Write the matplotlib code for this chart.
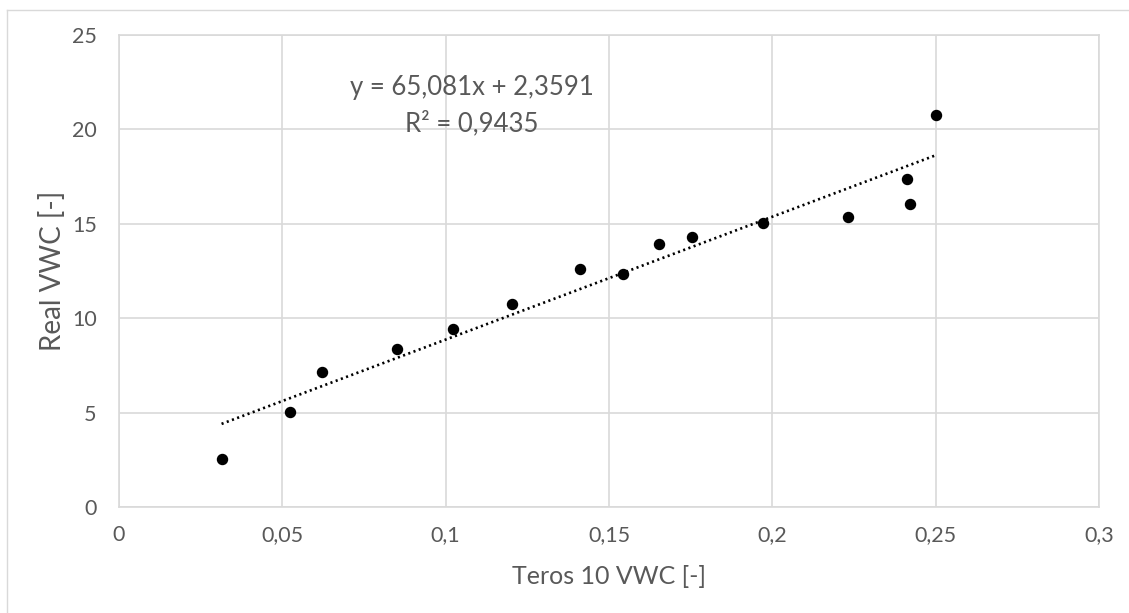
import numpy as np
import matplotlib
matplotlib.use("Agg")
import matplotlib.pyplot as plt
from matplotlib.lines import Line2D

# Teros 10 sensor readings vs. reference (gravimetric) VWC
teros_vwc = [0.0314, 0.0523, 0.0622, 0.0851, 0.1022, 0.1203, 0.1411, 0.1542,
             0.1652, 0.1753, 0.1971, 0.2231, 0.2411, 0.2421, 0.2501]
real_vwc = [2.54, 5.05, 7.17, 8.37, 9.43, 10.75, 12.60, 12.34,
            13.91, 14.30, 15.03, 15.38, 17.39, 16.03, 20.75]

# linear trendline coefficients
SLOPE = 65.081
INTERCEPT = 2.3591
R2 = 0.9435

x_ticks = [0, 0.05, 0.1, 0.15, 0.2, 0.25, 0.3]
y_ticks = [0, 5, 10, 15, 20, 25]

plt.rcParams["font.family"] = ["Lato", "DejaVu Sans"]
TEXT = "#595959"
GRID = "#d9d9d9"


def comma(v):
    return f"{v:g}".replace(".", ",")


fig = plt.figure(figsize=(11.29, 6.13), dpi=100)
ax = fig.add_axes([0.1054, 0.1729, 0.8680, 0.7700])

ax.scatter(teros_vwc, real_vwc, s=52, color="black", zorder=3)

xs = np.array([min(teros_vwc), max(teros_vwc)])
ax.plot(xs, SLOPE * xs + INTERCEPT, color="black", lw=1.9,
        linestyle=(0, (0.8, 1.3)), zorder=2)

ax.text(0.108, 22.2, f"y = {comma(SLOPE)}x + {comma(INTERCEPT)}",
        ha="center", va="center", fontsize=18.5, color=TEXT)
ax.text(0.108, 20.3, f"R² = {comma(R2)}",
        ha="center", va="center", fontsize=18.5, color=TEXT)

ax.set_xlim(0, 0.3)
ax.set_ylim(0, 25)
ax.set_xticks(x_ticks)
ax.set_yticks(y_ticks)
ax.set_xticklabels([comma(v) for v in x_ticks])
ax.set_yticklabels([comma(v) for v in y_ticks])
ax.tick_params(length=0, labelsize=15.5, labelcolor=TEXT)
ax.tick_params(axis="x", pad=13)
ax.tick_params(axis="y", pad=16)
ax.grid(True, color=GRID, lw=1.2)
ax.set_axisbelow(True)
for sp in ax.spines.values():
    sp.set_color(GRID)
    sp.set_linewidth(1.2)

ax.set_xlabel("Teros 10 VWC [-]", fontsize=18, color=TEXT, labelpad=14)
ax.set_ylabel("Real VWC [-]", fontsize=20, color=TEXT, labelpad=4)

# chart area border (left and top edges)
fig.add_artist(Line2D([0.0058, 0.0058], [0, 0.9837], transform=fig.transFigure,
                      color=GRID, lw=1))
fig.add_artist(Line2D([0.0058, 1], [0.9837, 0.9837], transform=fig.transFigure,
                      color=GRID, lw=1))

fig.savefig("out.png", dpi=100)
